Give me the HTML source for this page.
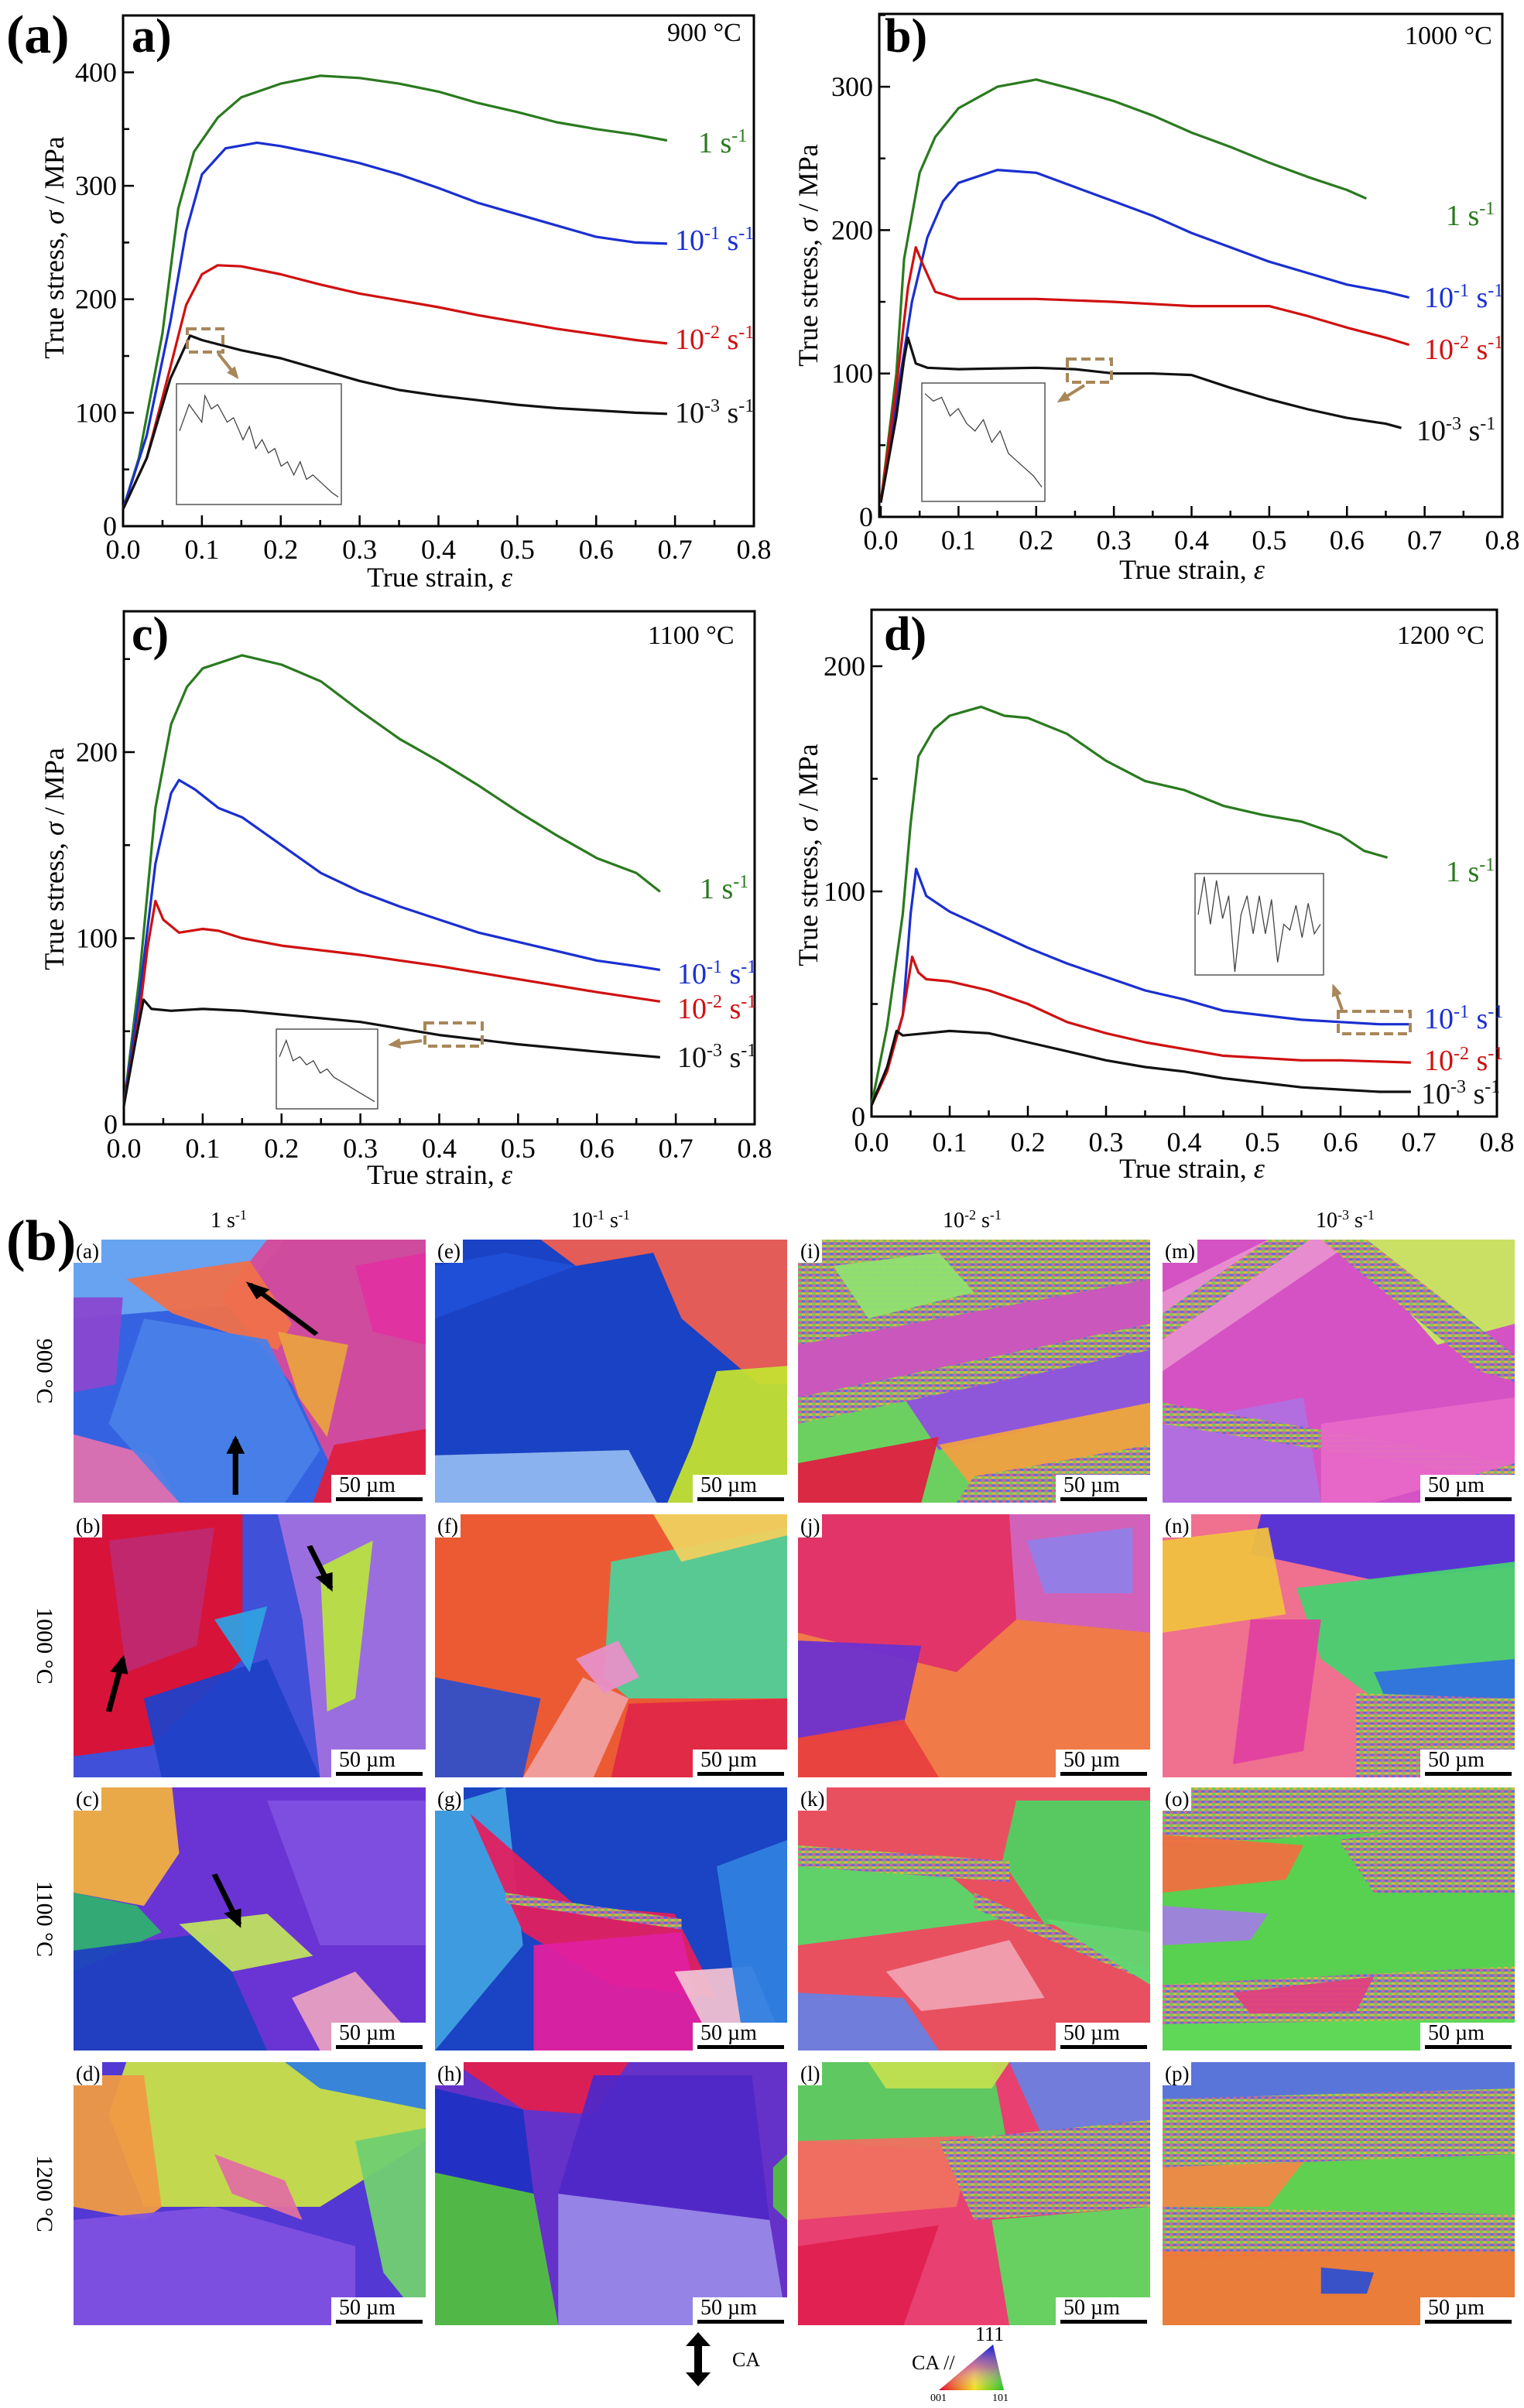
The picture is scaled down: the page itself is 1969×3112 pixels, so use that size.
<!DOCTYPE html>
<html><head><meta charset="utf-8">
<style>
html,body{margin:0;padding:0;background:#fff;}
body{width:1969px;height:3112px;position:relative;overflow:hidden;font-family:"Liberation Serif",serif;}
.abs{position:absolute;white-space:nowrap;}
.sl{font-size:38px;line-height:1;}
.sl sup{font-size:24px;vertical-align:14px;line-height:0;}
.temp{font-size:34px;}
.pl{font-size:62px;font-weight:bold;}
.hdr{font-size:28px;}
.hdr sup{font-size:18px;vertical-align:10px;line-height:0;}
.map{position:absolute;width:455px;height:340px;overflow:hidden;}
.map svg{position:absolute;left:0;top:0;width:100%;height:100%;}
.sub{position:absolute;left:0;top:0;background:#fff;font-size:27px;padding:0 3px;line-height:30px;}
.sb{position:absolute;right:0;bottom:0;width:122px;height:36px;background:#fff;}
.sb span{position:absolute;left:10px;top:-2px;font-size:28px;}
.sb i{position:absolute;left:6px;right:4px;bottom:2px;height:5px;background:#000;}
.rowl{position:absolute;font-size:30px;transform:rotate(90deg);transform-origin:center;width:140px;text-align:center;}
</style></head>
<body>
<svg id="charts" width="1969" height="1560" style="position:absolute;left:0;top:0" xmlns="http://www.w3.org/2000/svg"></svg>

<div class="abs pl" style="left:8px;top:6px;font-size:70px">(a)</div>
<div class="abs pl" style="left:170px;top:12px">a)</div>
<div class="abs pl" style="left:1143px;top:12px">b)</div>
<div class="abs pl" style="left:170px;top:785px">c)</div>
<div class="abs pl" style="left:1142px;top:785px">d)</div>

<div class="abs temp" style="left:862px;top:24px">900 °C</div>
<div class="abs temp" style="left:1815px;top:28px">1000 °C</div>
<div class="abs temp" style="left:837px;top:803px">1100 °C</div>
<div class="abs temp" style="left:1805px;top:803px">1200 °C</div>

<div class="abs sl" style="left:902px;top:166px;color:#2a7a1f">1 s<sup>-1</sup></div>
<div class="abs sl" style="left:872px;top:292px;color:#1a2fd0">10<sup>-1</sup> s<sup>-1</sup></div>
<div class="abs sl" style="left:872px;top:420px;color:#d01010">10<sup>-2</sup> s<sup>-1</sup></div>
<div class="abs sl" style="left:872px;top:515px;color:#111">10<sup>-3</sup> s<sup>-1</sup></div>
<div class="abs sl" style="left:1868px;top:260px;color:#2a7a1f">1 s<sup>-1</sup></div>
<div class="abs sl" style="left:1840px;top:366px;color:#1a2fd0">10<sup>-1</sup> s<sup>-1</sup></div>
<div class="abs sl" style="left:1840px;top:433px;color:#d01010">10<sup>-2</sup> s<sup>-1</sup></div>
<div class="abs sl" style="left:1830px;top:538px;color:#111">10<sup>-3</sup> s<sup>-1</sup></div>
<div class="abs sl" style="left:904px;top:1130px;color:#2a7a1f">1 s<sup>-1</sup></div>
<div class="abs sl" style="left:875px;top:1240px;color:#1a2fd0">10<sup>-1</sup> s<sup>-1</sup></div>
<div class="abs sl" style="left:875px;top:1285px;color:#d01010">10<sup>-2</sup> s<sup>-1</sup></div>
<div class="abs sl" style="left:875px;top:1348px;color:#111">10<sup>-3</sup> s<sup>-1</sup></div>
<div class="abs sl" style="left:1868px;top:1108px;color:#2a7a1f">1 s<sup>-1</sup></div>
<div class="abs sl" style="left:1840px;top:1298px;color:#1a2fd0">10<sup>-1</sup> s<sup>-1</sup></div>
<div class="abs sl" style="left:1840px;top:1352px;color:#d01010">10<sup>-2</sup> s<sup>-1</sup></div>
<div class="abs sl" style="left:1836px;top:1395px;color:#111">10<sup>-3</sup> s<sup>-1</sup></div>

<div class="abs pl" style="left:8px;top:1562px;font-size:74px">(b)</div>
<div class="abs hdr" style="left:272px;top:1562px">1 s<sup>-1</sup></div>
<div class="abs hdr" style="left:738px;top:1562px">10<sup>-1</sup> s<sup>-1</sup></div>
<div class="abs hdr" style="left:1218px;top:1562px">10<sup>-2</sup> s<sup>-1</sup></div>
<div class="abs hdr" style="left:1700px;top:1562px">10<sup>-3</sup> s<sup>-1</sup></div>
<div class="rowl" style="left:-13px;top:1755px">900 °C</div>
<div class="rowl" style="left:-13px;top:2110px">1000 °C</div>
<div class="rowl" style="left:-13px;top:2463px">1100 °C</div>
<div class="rowl" style="left:-13px;top:2818px">1200 °C</div>
<div id="maps"></div>

<svg class="abs" style="left:880px;top:3012px" width="120" height="80">
<polygon points="22,2 38,20 27,20 27,54 38,54 22,72 6,54 17,54 17,20 6,20" fill="#000"/>
<text x="66" y="46" font-size="26" font-family="Liberation Serif">CA</text>
</svg>
<svg class="abs" style="left:1160px;top:3005px" width="160" height="100">
<defs>
<linearGradient id="ipfH" x1="0" y1="0" x2="1" y2="0"><stop offset="0" stop-color="#e0002a"/><stop offset="0.55" stop-color="#f0e020"/><stop offset="1" stop-color="#20c020"/></linearGradient>
<linearGradient id="ipfV" x1="0" y1="1" x2="0" y2="0"><stop offset="0" stop-color="#fff" stop-opacity="0"/><stop offset="0.5" stop-color="#c040e0" stop-opacity="0.6"/><stop offset="1" stop-color="#1020e0"/></linearGradient>
</defs>
<polygon points="53,84 123,25 137,84" fill="url(#ipfH)"/>
<polygon points="53,84 123,25 137,84" fill="url(#ipfV)"/>
<text x="100" y="20" font-size="26" font-family="Liberation Serif">111</text>
<text x="18" y="57" font-size="26" font-family="Liberation Serif">CA //</text>
<text x="42" y="98" font-size="14" font-family="Liberation Serif">001</text>
<text x="122" y="98" font-size="14" font-family="Liberation Serif">101</text>
</svg>

<script>
const xTicks = [0,0.1,0.2,0.3,0.4,0.5,0.6,0.7,0.8];
const yTicksA = [0,100,200,300,400];
const yTicksB = [0,100,200,300];
const yTicksC = [0,100,200];
const yTicksD = [0,100,200];

const aStrainG=[0,0.02,0.05,0.07,0.09,0.12,0.15,0.2,0.25,0.3,0.35,0.4,0.45,0.5,0.55,0.6,0.65,0.69];
const aStressG=[15,60,170,280,330,360,378,390,397,395,390,383,373,365,356,350,345,340];
const aStrainB=[0,0.03,0.06,0.08,0.1,0.13,0.17,0.2,0.25,0.3,0.35,0.4,0.45,0.5,0.55,0.6,0.65,0.69];
const aStressB=[15,80,180,260,310,333,338,335,328,320,310,298,285,275,265,255,250,249];
const aStrainR=[0,0.03,0.06,0.08,0.1,0.12,0.15,0.2,0.25,0.3,0.35,0.4,0.45,0.5,0.55,0.6,0.65,0.69];
const aStressR=[15,60,140,195,222,230,229,222,213,205,199,193,186,180,174,169,164,161];
const aStrainK=[0,0.03,0.06,0.085,0.1,0.15,0.2,0.25,0.3,0.35,0.4,0.45,0.5,0.55,0.6,0.65,0.69];
const aStressK=[15,60,130,168,164,155,148,138,128,120,115,111,107,104,102,100,99];

const bStrainG=[0,0.02,0.03,0.05,0.07,0.1,0.15,0.2,0.25,0.3,0.35,0.4,0.45,0.5,0.55,0.6,0.625];
const bStressG=[10,100,180,240,265,285,300,305,298,290,280,268,258,247,237,228,222];
const bStrainB=[0,0.02,0.04,0.06,0.08,0.1,0.15,0.2,0.25,0.3,0.35,0.4,0.45,0.5,0.55,0.6,0.65,0.68];
const bStressB=[10,80,150,195,220,233,242,240,230,220,210,198,188,178,170,162,157,153];
const bStrainR=[0,0.02,0.035,0.045,0.055,0.07,0.1,0.2,0.3,0.4,0.5,0.55,0.6,0.65,0.68];
const bStressR=[10,90,160,188,175,157,152,152,150,147,147,140,132,125,120];
const bStrainK=[0,0.02,0.03,0.035,0.045,0.06,0.1,0.2,0.25,0.3,0.35,0.4,0.45,0.5,0.55,0.6,0.65,0.67];
const bStressK=[10,70,110,125,107,104,103,104,103,100,100,99,90,82,75,69,65,62];

const cStrainG=[0,0.02,0.04,0.06,0.08,0.1,0.15,0.2,0.25,0.3,0.35,0.4,0.45,0.5,0.55,0.6,0.65,0.68];
const cStressG=[10,80,170,215,235,245,252,247,238,222,207,195,182,168,155,143,135,125];
const cStrainB=[0,0.02,0.04,0.06,0.07,0.09,0.12,0.15,0.2,0.25,0.3,0.35,0.4,0.45,0.5,0.55,0.6,0.65,0.68];
const cStressB=[10,70,140,178,185,180,170,165,150,135,125,117,110,103,98,93,88,85,83];
const cStrainR=[0,0.02,0.03,0.04,0.05,0.07,0.1,0.12,0.15,0.2,0.3,0.4,0.5,0.6,0.68];
const cStressR=[10,60,95,120,110,103,105,104,100,96,91,85,78,71,66];
const cStrainK=[0,0.015,0.025,0.035,0.06,0.1,0.15,0.2,0.3,0.4,0.5,0.6,0.68];
const cStressK=[10,45,67,62,61,62,61,59,55,48,43,39,36];

const dStrainG=[0,0.02,0.04,0.05,0.06,0.08,0.1,0.12,0.14,0.17,0.2,0.25,0.3,0.35,0.4,0.45,0.5,0.55,0.6,0.63,0.66];
const dStressG=[5,40,90,130,160,172,178,180,182,178,177,170,158,149,145,138,134,131,125,118,115];
const dStrainB=[0,0.02,0.04,0.05,0.057,0.07,0.1,0.15,0.2,0.25,0.3,0.35,0.4,0.45,0.5,0.55,0.6,0.65,0.69];
const dStressB=[5,22,45,90,110,98,91,83,75,68,62,56,52,47,45,43,42,41,41];
const dStrainR=[0,0.02,0.04,0.052,0.06,0.07,0.1,0.15,0.2,0.25,0.3,0.35,0.4,0.45,0.5,0.55,0.6,0.69];
const dStressR=[5,20,45,71,64,61,60,56,50,42,37,33,30,27,26,25,25,24];
const dStrainK=[0,0.02,0.032,0.04,0.07,0.1,0.15,0.2,0.25,0.3,0.35,0.4,0.45,0.5,0.55,0.6,0.65,0.69];
const dStressK=[5,22,38,36,37,38,37,33,29,25,22,20,17,15,13,12,11,11];

const insAx=[0.08,0.083,0.085,0.087,0.088,0.09,0.092,0.095,0.097,0.1,0.102,0.104,0.106,0.108,0.11,0.112,0.114,0.116,0.118,0.12,0.122,0.125,0.128,0.13];
const insAy=[165,168,167,166,169,167.5,168,166,166.5,164,165.5,163,164,162.5,163,161,161.5,160,161.5,159.5,160,159,158,157.5];
const insBx=[0.23,0.235,0.24,0.245,0.25,0.255,0.26,0.265,0.27,0.275,0.28,0.285,0.29,0.295,0.3];
const insBy=[98.8,98.6,98.7,98.2,98.4,98.0,97.8,98.1,97.5,97.8,97.2,97.0,96.8,96.6,96.3];
const insCx=[0.38,0.385,0.39,0.395,0.4,0.405,0.41,0.415,0.42,0.425,0.43,0.435,0.44,0.445,0.45];
const insCy=[49,51,48.5,49,48,48.5,47,47.5,46.5,46,45.5,45,44.5,44,43.5];
const insDx=[0.58,0.585,0.59,0.595,0.6,0.605,0.61,0.615,0.62,0.625,0.63,0.635,0.64,0.645,0.65,0.655,0.66,0.665,0.67,0.675,0.68];
const insDy=[42,44,41.5,43.8,41.8,43,39,42,43,41,43,41,42.8,39.5,41.5,41.2,42.5,40.8,42.6,41,41.5];

const charts=[
 {id:'a',left:159,right:974,top:20,bottom:680,x0:159,x8:974,y0:680,k:1.4663,yT:yTicksA,ymin:50,tickY:722,ttlX:568,ttlY:758,yttlX:70,yttlY:320,
  series:[[aStrainG,aStressG,'#2a7a1f'],[aStrainB,aStressB,'#1a2fd0'],[aStrainR,aStressR,'#d01010'],[aStrainK,aStressK,'#111']],
  inset:{l:228,t:496,r:441,b:652,xs:insAx,ys:insAy,x0:0.08,x1:0.13,y0:157,y1:170},dbox:[242,425,288,455],arrow:[282,457,306,487]},
 {id:'b',left:1136,right:1941,top:18,bottom:668,x0:1138,x8:1941,y0:668,k:1.853,yT:yTicksB,ymin:50,tickY:710,ttlX:1540,ttlY:748,yttlX:1044,yttlY:330,
  series:[[bStrainG,bStressG,'#2a7a1f'],[bStrainB,bStressB,'#1a2fd0'],[bStrainR,bStressR,'#d01010'],[bStrainK,bStressK,'#111']],
  inset:{l:1191,t:495,r:1350,b:648,xs:insBx,ys:insBy,x0:0.23,x1:0.3,y0:96,y1:99},dbox:[1379,464,1436,494],arrow:[1401,498,1369,518]},
 {id:'c',left:160,right:975,top:790,bottom:1453,x0:160,x8:975,y0:1453,k:2.405,yT:yTicksC,ymin:50,tickY:1496,ttlX:568,ttlY:1530,yttlX:70,yttlY:1110,
  series:[[cStrainG,cStressG,'#2a7a1f'],[cStrainB,cStressB,'#1a2fd0'],[cStrainR,cStressR,'#d01010'],[cStrainK,cStressK,'#111']],
  inset:{l:357,t:1330,r:488,b:1433,xs:insCx,ys:insCy,x0:0.38,x1:0.45,y0:43,y1:52},dbox:[549,1322,623,1352],arrow:[545,1345,505,1350]},
 {id:'d',left:1126,right:1934,top:788,bottom:1443,x0:1126,x8:1934,y0:1443,k:2.91,yT:yTicksD,ymin:50,tickY:1488,ttlX:1540,ttlY:1522,yttlX:1044,yttlY:1105,
  series:[[dStrainG,dStressG,'#2a7a1f'],[dStrainB,dStressB,'#1a2fd0'],[dStrainR,dStressR,'#d01010'],[dStrainK,dStressK,'#111']],
  inset:{l:1544,t:1129,r:1710,b:1260,xs:insDx,ys:insDy,x0:0.58,x1:0.68,y0:39,y1:44},dbox:[1729,1307,1822,1336],arrow:[1734,1305,1723,1275]}
];
const NS='http://www.w3.org/2000/svg';
const root=document.getElementById('charts');
function mk(tag,attrs,parent){const e=document.createElementNS(NS,tag);for(const k in attrs)e.setAttribute(k,attrs[k]);parent.appendChild(e);return e;}
const names=['1s','01s','001s','0001s'];
charts.forEach(c=>{
  const g=mk('g',{},root);
  
  
  const X=v=>c.x0+(c.x8-c.x0)*v/0.8;
  const Y=v=>c.y0-v*c.k;
  const box=mk('rect',{x:c.left,y:c.top,width:c.right-c.left,height:c.bottom-c.top,fill:'none',stroke:'#000','stroke-width':3},g);
  
  
  for(let i=0;i<=16;i++){const v=i*0.05;const px=X(v);const len=(i%2==0)?14:8;
    mk('line',{x1:px,y1:c.bottom,x2:px,y2:c.bottom-len,stroke:'#000','stroke-width':2.5},g);}
  xTicks.forEach(v=>{const t=mk('text',{x:X(v),y:c.tickY,'font-size':36,'text-anchor':'middle','font-family':'Liberation Serif'},g);t.textContent=v.toFixed(1);
    
    });
  const ymax=c.yT[c.yT.length-1]+50;
  for(let v=0;v<=ymax;v+=c.ymin){const py=Y(v);if(py<c.top)break;const len=(v%100==0)?14:8;
    mk('line',{x1:c.left,y1:py,x2:c.left+len,y2:py,stroke:'#000','stroke-width':2.5},g);}
  c.yT.forEach(v=>{const t=mk('text',{x:c.left-8,y:Y(v)+12,'font-size':36,'text-anchor':'end','font-family':'Liberation Serif'},g);t.textContent=v;
    
    });
  const xt=mk('text',{x:c.ttlX,y:c.ttlY,'font-size':36,'text-anchor':'middle','font-family':'Liberation Serif'},g);
  xt.innerHTML='True strain, <tspan font-style="italic">ε</tspan>';
  
  
  const yt=mk('text',{x:0,y:0,'font-size':36,'text-anchor':'middle','font-family':'Liberation Serif',transform:`translate(${c.yttlX+12},${c.yttlY}) rotate(-90)`},g);
  yt.innerHTML='True stress, <tspan font-style="italic">σ</tspan> / MPa';
  
  
  c.series.forEach((s,si)=>{
    const pts=s[0].map((x,i)=>X(x).toFixed(1)+','+Y(s[1][i]).toFixed(1)).join(' ');
    const pl=mk('polyline',{points:pts,fill:'none',stroke:s[2],'stroke-width':3.2,'stroke-linejoin':'round'},g);
    
    
  });
  const I=c.inset;
  const ig=mk('g',{},g);
  
  
  mk('rect',{x:I.l,y:I.t,width:I.r-I.l,height:I.b-I.t,fill:'#fff',stroke:'#555','stroke-width':1.5},ig);
  const IX=v=>I.l+4+(I.r-I.l-8)*(v-I.x0)/(I.x1-I.x0);
  const IY=v=>I.b-4-(I.b-I.t-8)*(v-I.y0)/(I.y1-I.y0);
  const ipl=mk('polyline',{points:I.xs.map((x,i)=>IX(x).toFixed(1)+','+IY(I.ys[i]).toFixed(1)).join(' '),fill:'none',stroke:'#444','stroke-width':1.3},ig);
  
  
  const d=c.dbox;
  const db=mk('rect',{x:d[0],y:d[1],width:d[2]-d[0],height:d[3]-d[1],fill:'none',stroke:'#a8875a','stroke-width':4,'stroke-dasharray':'12,6'},g);
  
  
  const a=c.arrow;
  const ar=mk('line',{x1:a[0],y1:a[1],x2:a[2],y2:a[3],stroke:'#a8875a','stroke-width':4},g);
  
  
  const ang=Math.atan2(a[3]-a[1],a[2]-a[0]);
  const hx=a[2],hy=a[3],L=14;
  mk('polygon',{points:`${hx+4*Math.cos(ang)},${hy+4*Math.sin(ang)} ${hx-L*Math.cos(ang-0.5)},${hy-L*Math.sin(ang-0.5)} ${hx-L*Math.cos(ang+0.5)},${hy-L*Math.sin(ang+0.5)}`,fill:'#a8875a'},g);
});

const colX=[95,562,1031,1502];
const rowY=[1602,1957,2310,2665];
const letters=['a','e','i','m','b','f','j','n','c','g','k','o','d','h','l','p'];
const SP='url(#spk)';
const maps=[
 {bg:'#3562e0',p:[['#6aa6f0','0,0 60,0 45,25 0,30'],['#d84a9a','55,0 100,0 100,100 78,100 62,55 42,22'],['#f0704a','15,15 50,8 62,32 58,42 28,28'],['#e8a040','58,35 78,40 72,75 64,60'],['#8a48d0','0,22 14,22 12,55 0,58'],['#e070b0','0,74 22,82 30,100 0,100'],['#e01e3e','74,78 100,72 100,100 68,100'],['#4a80e8','20,30 55,38 70,80 60,100 30,100 10,70'],['#e030a0','80,10 100,5 100,40 85,35']],arrows:[[69,36,50,17],[46,97,46,76]]},
 {bg:'#1a42c4',p:[['#ee5e52','30,0 100,0 100,55 92,55 70,30 62,5 40,10'],['#90b8f0','0,82 55,80 63,100 0,100'],['#c4e032','80,50 100,48 100,100 66,100 73,78'],['#2050d8','0,10 20,5 40,10 0,30']]},
 {bg:'#6cd060',p:[['#d050c0','0,40 100,15 100,32 0,60'],[SP,'0,0 100,0 100,15 0,40'],['#9050e0','30,60 100,40 100,62 40,80'],[SP,'0,60 100,32 100,42 0,70'],['#e02040','0,85 40,75 35,100 0,100'],['#f0a040','40,78 100,62 100,80 50,95'],[SP,'50,90 100,78 100,100 45,100'],['#90e070','10,10 40,5 50,20 20,30']]},
 {bg:'#d452c4',p:[['#e890d0','0,20 30,0 55,0 0,50'],[SP,'30,0 42,0 0,38 0,28'],['#c8e860','52,0 100,0 100,32 78,40'],[SP,'45,0 58,0 100,44 100,54 90,50'],['#b070e0','0,70 40,60 45,100 0,100'],[SP,'0,62 100,85 100,92 0,70'],['#e868c8','45,70 100,60 100,85 60,100 45,100']]},
 {bg:'#4050d8',p:[['#e01030','0,0 48,0 48,55 22,88 0,92'],['#c02870','10,10 40,5 35,50 15,60'],['#a070e0','58,0 100,0 100,100 70,100 65,40'],['#b8e040','70,20 85,10 80,70 72,75'],['#2040c8','20,70 55,55 70,100 25,100'],['#30a0e0','40,40 55,35 50,60']],arrows:[[10,75,14,55],[67,12,73,28]]},
 {bg:'#ec5a34',p:[['#50d098','50,18 100,5 100,70 55,70 48,62'],['#f0a0a0','42,62 55,70 45,100 25,100'],['#3050c8','0,62 30,70 25,100 0,100'],['#e02848','55,72 100,70 100,100 50,100'],['#f0d060','62,0 100,0 100,8 70,18'],['#e890c8','40,55 52,48 58,62 48,68']]},
 {bg:'#f07a48',p:[['#e0306a','0,0 60,0 62,40 45,60 0,45'],['#d060c0','60,0 100,0 100,45 62,40'],['#9080e8','65,10 95,5 95,30 70,30'],['#6a32d0','0,48 35,50 30,80 0,85'],['#e84040','0,85 30,78 40,100 0,100']]},
 {bg:'#f07090',p:[['#5232d8','28,0 100,0 100,20 60,25 25,15'],['#48d070','38,28 100,18 100,75 60,70 45,55'],['#f0c040','0,10 30,5 35,38 0,45'],['#3070e0','60,60 100,55 100,72 65,75'],[SP,'55,68 100,70 100,100 55,100'],['#e040a0','25,40 45,40 40,90 20,95']]},
 {bg:'#6a34d4',p:[['#f0b040','0,0 28,0 30,25 20,45 0,40'],['#30b070','0,40 18,45 25,55 0,70'],['#2040c0','0,62 40,55 55,100 0,100'],['#c0e060','30,52 55,48 68,64 45,70'],['#e8a0c0','62,80 80,70 100,100 70,100'],['#8050e0','55,5 100,5 100,60 70,60']],arrows:[[40,33,47,52]]},
 {bg:'#1a44c4',p:[['#40a0e0','0,8 20,0 25,60 0,100'],['#e22060','10,10 40,45 68,48 80,80 50,75 25,55'],['#e020a0','28,60 70,55 78,100 28,100'],['#f0c0d0','68,70 90,68 100,100 80,100'],['#3080e0','80,30 100,20 100,100 88,100'],[SP,'20,40 70,50 70,54 20,44']]},
 {bg:'#e85060',p:[['#50d060','62,5 100,5 100,55 70,52 58,28'],['#58d868','0,25 40,30 58,50 0,60'],[SP,'0,22 60,28 60,36 0,30'],['#f0a0b0','25,70 60,58 70,80 35,85'],['#6a80e0','0,78 30,80 40,100 0,100'],[SP,'50,40 100,70 100,74 50,46'],['#60d870','70,50 100,55 100,75']]},
 {bg:'#58d050',p:[[SP,'0,0 100,0 100,14 0,22'],['#f07040','0,18 40,22 35,35 0,40'],[SP,'50,20 100,10 100,40 60,40'],['#a080e0','0,45 30,48 25,58 0,60'],[SP,'0,75 100,68 100,88 0,90'],['#e04080','20,78 60,72 55,85 25,86'],['#60d858','0,90 100,88 100,100 0,100']]},
 {bg:'#5438d4',p:[['#c8e048','15,0 100,0 100,30 70,55 20,55 10,20'],['#f09a44','0,5 20,5 25,55 20,60 0,55'],['#e070a0','40,35 60,45 65,60 45,50'],['#70d070','80,30 100,25 100,100 88,80'],['#3080e0','60,0 100,0 100,18 70,10'],['#8050e0','0,60 40,55 80,70 80,100 0,100']]},
 {bg:'#6432c8',p:[['#e01e50','5,0 55,0 45,20 25,18'],['#2030c4','0,10 25,18 28,50 0,42'],['#50c040','0,42 28,50 35,100 0,100'],['#9888e8','35,50 95,60 100,100 35,100'],['#50c040','96,40 100,35 100,60 96,55'],['#5028c8','45,5 90,5 95,60 35,50']]},
 {bg:'#e84070',p:[['#58d060','0,0 55,0 60,35 0,30'],['#c0e050','20,0 60,0 55,10 25,10'],['#6a80e0','60,0 100,0 100,35 70,30'],['#f07060','0,30 50,28 45,55 0,60'],[SP,'40,30 100,22 100,55 50,60'],['#60d860','55,60 100,55 100,100 60,100'],['#e02050','0,70 40,62 30,100 0,100']]},
 {bg:'#60d050',p:[['#5a70e0','0,0 100,0 100,12 0,18'],[SP,'0,14 100,10 100,35 0,40'],['#f08848','0,40 40,38 30,55 0,55'],[SP,'0,55 100,58 100,72 0,75'],['#f07838','0,72 100,72 100,100 0,100'],['#3050d0','45,78 60,80 58,88 45,88']]}
];
const host=document.getElementById('maps');
maps.forEach((m,i)=>{
  const r=Math.floor(i/4),c=i%4;
  const d=document.createElement('div');
  d.className='map';
  d.style.left=colX[c]+'px';d.style.top=rowY[r]+'px';
  
  
  let s='<svg viewBox="0 0 100 100" preserveAspectRatio="none" xmlns="http://www.w3.org/2000/svg"><defs><pattern id="spk" patternUnits="userSpaceOnUse" width="2" height="2"><rect width="2" height="2" fill="#e06090"/><rect width="1" height="1" fill="#60d060"/><rect x="1" y="1" width="1" height="1" fill="#5070e0"/><rect x="1" width="1" height="1" fill="#f0b040"/></pattern></defs>';
  s+='<rect width="100" height="100" fill="'+m.bg+'"/>';
  m.p.forEach(p=>{s+='<polygon points="'+p[1]+'" fill="'+p[0]+'" opacity="0.95"/>';});
  (m.arrows||[]).forEach(a=>{const ang=Math.atan2(a[3]-a[1],a[2]-a[0]);
    s+='<line x1="'+a[0]+'" y1="'+a[1]+'" x2="'+a[2]+'" y2="'+a[3]+'" stroke="#000" stroke-width="1.6"/>';
    const L=6;s+='<polygon points="'+(a[2]+1.5*Math.cos(ang))+','+(a[3]+1.5*Math.sin(ang))+' '+(a[2]-L*Math.cos(ang-0.45))+','+(a[3]-L*Math.sin(ang-0.45))+' '+(a[2]-L*Math.cos(ang+0.45))+','+(a[3]-L*Math.sin(ang+0.45))+'" fill="#000"/>';});
  s+='</svg>';
  d.innerHTML=s+'<div class="sub">('+letters[i]+')</div><div class="sb"><span>50 µm</span><i></i></div>';
  host.appendChild(d);
  const lab=d.querySelector('.sub');
  
  
  const sb=d.querySelector('.sb');
  
  
});
</script>
</body></html>
